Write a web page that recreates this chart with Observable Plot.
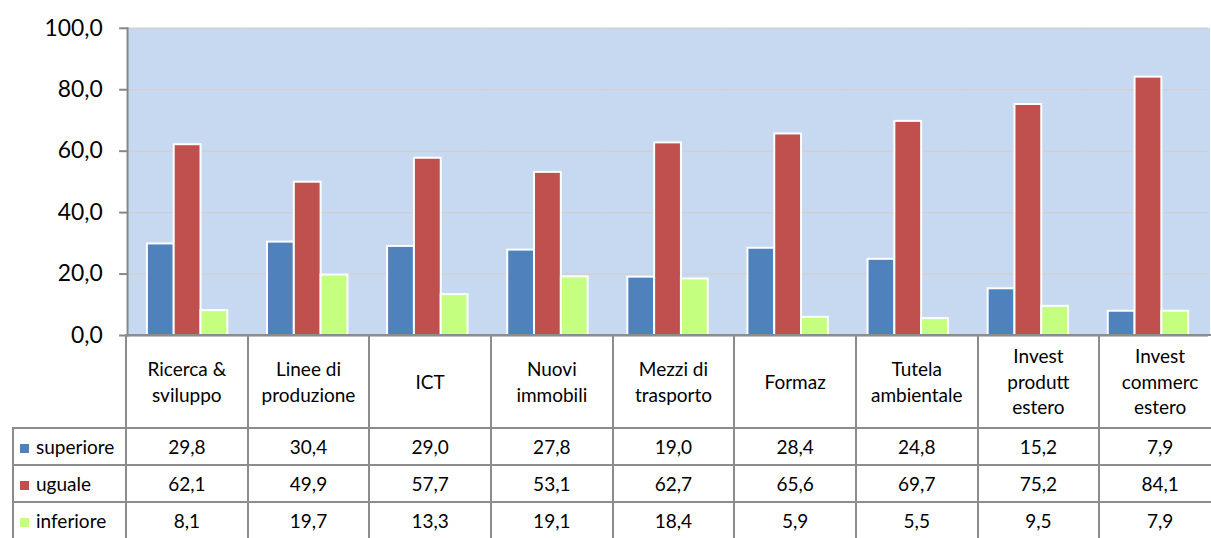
<!DOCTYPE html>
<html><head><meta charset="utf-8">
<script src="https://cdn.jsdelivr.net/npm/d3@7"></script>
<script src="https://cdn.jsdelivr.net/npm/@observablehq/plot@0.6"></script>
<style>
html,body{margin:0;padding:0;background:#fff;overflow:hidden;}
#wrap{position:relative;width:1211px;height:538px;overflow:hidden;font-family:Lato,"Open Sans",sans-serif;}
#chart{position:absolute;left:0;top:0;}
#tbl{position:absolute;left:12px;top:334px;border-collapse:collapse;table-layout:fixed;font-family:Lato,sans-serif;font-size:19px;color:#000;}
#tbl td{border:2px solid #8c8c8c;text-align:center;padding:0;white-space:nowrap;}
#tbl td.blank{border:none;}
#tbl td.cat{height:91px;line-height:25.5px;}
#tbl td.val{height:35px;}
#tbl td.leg{text-align:left;padding-left:6px;}
#tbl .sw{display:inline-block;width:9px;height:9px;margin-right:7px;vertical-align:1px;}
</style></head><body>
<div id="wrap"><div id="chart"></div><table id="tbl"></table></div>
<script>
const categories = ["Ricerca &\nsviluppo", "Linee di\nproduzione", "ICT", "Nuovi\nimmobili", "Mezzi di\ntrasporto", "Formaz", "Tutela\nambientale", "Invest\nprodutt\nestero", "Invest\ncommerc\nestero"];
const series = ["superiore", "uguale", "inferiore"];
const superiore = [29.8, 30.4, 29.0, 27.8, 19.0, 28.4, 24.8, 15.2, 7.9];
const uguale = [62.1, 49.9, 57.7, 53.1, 62.7, 65.6, 69.7, 75.2, 84.1];
const inferiore = [8.1, 19.7, 13.3, 19.1, 18.4, 5.9, 5.5, 9.5, 7.9];
const colors = ["#4F81BD", "#C0504D", "#C4FF80"];
const yTicks = [0, 20, 40, 60, 80, 100];

const valuesBySeries = {superiore, uguale, inferiore};
const data = [];
categories.forEach((c, i) => series.forEach(s => data.push({cat: c, series: s, value: valuesBySeries[s][i]})));
const fmt = d => d.toFixed(1).replace(".", ",");

const plot = Plot.plot({
  width: 1220, height: 341,
  marginLeft: 125, marginRight: 0, marginTop: 28, marginBottom: 3.5,
  style: {fontFamily: "Lato, sans-serif", fontSize: "23px", color: "#000", background: "transparent", overflow: "visible"},
  fx: {domain: categories, padding: 0, axis: null},
  x: {domain: series, paddingInner: 0, paddingOuter: 0.673, axis: null},
  y: {domain: [0, 100], axis: null},
  color: {domain: series, range: colors},
  marks: [
    Plot.frame({fill: "#C6D9F1", stroke: null, insetLeft: -1, insetRight: -1, shapeRendering: "crispEdges"}),
    Plot.gridY(yTicks, {stroke: "#D0D0D0", strokeOpacity: 1, strokeWidth: 1.5}),
    Plot.barY(data, {fx: "cat", x: "series", y: "value", fill: "series", stroke: "white", strokeWidth: 2}),
    Plot.axisY(yTicks, {tickSize: 8, tickPadding: 17, stroke: "#868686", strokeWidth: 2, tickFormat: fmt, fontSize: 23, fill: "#000", label: null}),
    Plot.frame({anchor: "left", stroke: "#868686", strokeWidth: 2, facetAnchor: "left"}),
    Plot.ruleY([0], {stroke: "#8c8c8c", strokeWidth: 2})
  ]
});
document.getElementById("chart").appendChild(plot);

// data table under the chart
const tbl = document.getElementById("tbl");
const colW = 1095 / categories.length;
const cg = document.createElement("colgroup");
[113, ...categories.map(() => colW)].forEach(w => {
  const col = document.createElement("col"); col.style.width = w + "px"; cg.appendChild(col);
});
tbl.appendChild(cg);
tbl.style.width = (113 + 1095) + "px";
const head = document.createElement("tr");
const blank = document.createElement("td"); blank.className = "blank"; head.appendChild(blank);
categories.forEach(c => {
  const td = document.createElement("td"); td.className = "cat";
  td.innerHTML = c.split("\n").join("<br>");
  head.appendChild(td);
});
tbl.appendChild(head);
series.forEach((s, si) => {
  const tr = document.createElement("tr");
  const lg = document.createElement("td"); lg.className = "leg val";
  const sw = document.createElement("span"); sw.className = "sw"; sw.style.background = colors[si];
  lg.appendChild(sw); lg.appendChild(document.createTextNode(s));
  tr.appendChild(lg);
  valuesBySeries[s].forEach(v => {
    const td = document.createElement("td"); td.className = "val"; td.textContent = fmt(v); tr.appendChild(td);
  });
  tbl.appendChild(tr);
});
</script>
</body></html>
